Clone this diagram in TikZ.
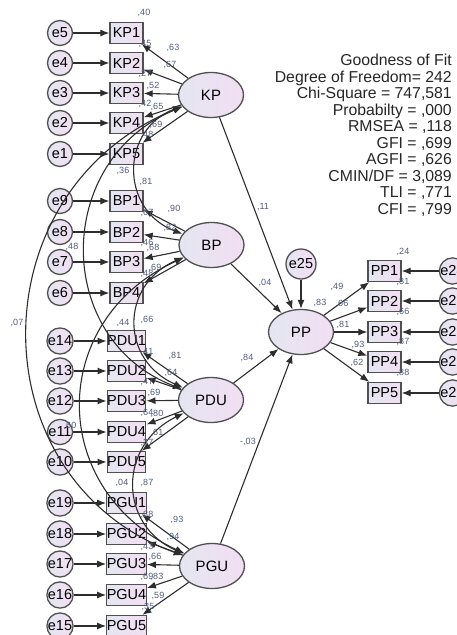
\documentclass[tikz,border=0pt]{standalone}
\usepackage{fontspec}
\setmainfont{Liberation Sans}
\usetikzlibrary{shapes.geometric,arrows.meta}
\definecolor{linha}{RGB}{45,45,45}
\definecolor{borda}{RGB}{80,80,80}
\definecolor{lilasA}{RGB}{228,230,242}
\definecolor{lilasB}{RGB}{242,222,242}
\definecolor{numcor}{RGB}{80,92,125}
\begin{document}
\begin{tikzpicture}[
    x=1pt, y=-1pt,
    obs/.style={shape=rectangle, draw=borda, line width=1.3pt, left color=lilasA, right color=lilasB,
        minimum width=33pt, minimum height=21pt, inner sep=0pt, font=\fontsize{14.5}{14.5}\selectfont},
    erro/.style={shape=circle, draw=borda, line width=1.3pt, left color=lilasA, right color=lilasB,
        minimum size=25pt, inner sep=0pt, font=\fontsize{14.5}{14.5}\selectfont},
    lat/.style={shape=ellipse, draw=borda, line width=1.3pt, left color=lilasA, right color=lilasB,
        minimum width=65pt, minimum height=45pt, inner sep=0pt, font=\fontsize{15}{15}\selectfont},
    seta/.style={draw=linha, line width=1.1pt, -{Latex[length=9pt,width=7pt]}},
    cov/.style={draw=linha, line width=1.1pt, {Latex[length=9pt,width=7pt]}-{Latex[length=9pt,width=7pt]}},
    num/.style={font=\fontsize{9}{9}\selectfont, text=numcor, inner sep=0pt},
    ajuste/.style={align=right, anchor=north east, inner sep=0pt, text=black!85, font=\fontsize{15.8}{16.5}\selectfont},
]
\useasboundingbox (0,0) rectangle (456,635);

% variaveis latentes
\node[lat] (kp) at (211,95) {KP};
\node[lat] (bp) at (211.5,245) {BP};
\node[lat] (pdu) at (211,400) {PDU};
\node[lat] (pgu) at (212,566) {PGU};
\node[lat] (pp) at (301,332) {PP};
\node[erro, minimum size=30pt] (e25) at (301,264) {e25};

% KP
\node[obs] (kp1) at (126.5,33) {KP1};
\node[obs] (kp2) at (126.5,63) {KP2};
\node[obs] (kp3) at (126.5,93) {KP3};
\node[obs] (kp4) at (126.5,123) {KP4};
\node[obs] (kp5) at (126.5,154) {KP5};
\node[erro] (e5) at (60,33) {e5};
\node[erro] (e4) at (60,63) {e4};
\node[erro] (e3) at (60,93) {e3};
\node[erro] (e2) at (60,123) {e2};
\node[erro] (e1) at (60,154) {e1};

% BP
\node[obs] (bp1) at (126.5,201) {BP1};
\node[obs] (bp2) at (126.5,232) {BP2};
\node[obs] (bp3) at (126.5,262) {BP3};
\node[obs] (bp4) at (126.5,293) {BP4};
\node[erro] (e9) at (60,201) {e9};
\node[erro] (e8) at (60,232) {e8};
\node[erro] (e7) at (60,262) {e7};
\node[erro] (e6) at (60,293) {e6};

% PDU
\node[obs] (pdu1) at (126.5,341) {PDU1};
\node[obs] (pdu2) at (126.5,371) {PDU2};
\node[obs] (pdu3) at (126.5,401) {PDU3};
\node[obs] (pdu4) at (126.5,432) {PDU4};
\node[obs] (pdu5) at (126.5,462) {PDU5};
\node[erro] (e14) at (60,341) {e14};
\node[erro] (e13) at (60,371) {e13};
\node[erro] (e12) at (60,401) {e12};
\node[erro] (e11) at (60,432) {e11};
\node[erro] (e10) at (60,462) {e10};

% PGU
\node[obs] (pgu1) at (126.5,503) {PGU1};
\node[obs] (pgu2) at (126.5,534) {PGU2};
\node[obs] (pgu3) at (126.5,564) {PGU3};
\node[obs] (pgu4) at (126.5,595) {PGU4};
\node[obs] (pgu5) at (126.5,626) {PGU5};
\node[erro] (e19) at (60,503) {e19};
\node[erro] (e18) at (60,534) {e18};
\node[erro] (e17) at (60,564) {e17};
\node[erro] (e16) at (60,595) {e16};
\node[erro] (e15) at (60,626) {e15};

% PP
\node[obs] (pp1) at (384.5,271) {PP1};
\node[obs] (pp2) at (384.5,301) {PP2};
\node[obs] (pp3) at (384.5,332) {PP3};
\node[obs] (pp4) at (384.5,362) {PP4};
\node[obs] (pp5) at (384.5,393) {PP5};
\node[erro] (e24) at (452.5,271) {e24};
\node[erro] (e23) at (452.5,301) {e23};
\node[erro] (e22) at (452.5,332) {e22};
\node[erro] (e21) at (452.5,362) {e21};
\node[erro] (e20) at (452.5,393) {e20};

% erros -> indicadores
\draw[seta] (e5) -- (kp1);
\draw[seta] (e4) -- (kp2);
\draw[seta] (e3) -- (kp3);
\draw[seta] (e2) -- (kp4);
\draw[seta] (e1) -- (kp5);
\draw[seta] (e9) -- (bp1);
\draw[seta] (e8) -- (bp2);
\draw[seta] (e7) -- (bp3);
\draw[seta] (e6) -- (bp4);
\draw[seta] (e14) -- (pdu1);
\draw[seta] (e13) -- (pdu2);
\draw[seta] (e12) -- (pdu3);
\draw[seta] (e11) -- (pdu4);
\draw[seta] (e10) -- (pdu5);
\draw[seta] (e19) -- (pgu1);
\draw[seta] (e18) -- (pgu2);
\draw[seta] (e17) -- (pgu3);
\draw[seta] (e16) -- (pgu4);
\draw[seta] (e15) -- (pgu5);
\draw[seta] (e24) -- (pp1);
\draw[seta] (e23) -- (pp2);
\draw[seta] (e22) -- (pp3);
\draw[seta] (e21) -- (pp4);
\draw[seta] (e20) -- (pp5);
\draw[seta] (e25) -- (pp);

% cargas
\draw[seta] (kp) -- (kp1);
\draw[seta] (kp) -- (kp2);
\draw[seta] (kp) -- (kp3);
\draw[seta] (kp) -- (kp4);
\draw[seta] (kp) -- (kp5);
\draw[seta] (bp) -- (bp1);
\draw[seta] (bp) -- (bp2);
\draw[seta] (bp) -- (bp3);
\draw[seta] (bp) -- (bp4);
\draw[seta] (pdu) -- (pdu1);
\draw[seta] (pdu) -- (pdu2);
\draw[seta] (pdu) -- (pdu3);
\draw[seta] (pdu) -- (pdu4);
\draw[seta] (pdu) -- (pdu5);
\draw[seta] (pgu) -- (pgu1);
\draw[seta] (pgu) -- (pgu2);
\draw[seta] (pgu) -- (pgu3);
\draw[seta] (pgu) -- (pgu4);
\draw[seta] (pgu) -- (pgu5);
\draw[seta] (pp) -- (pp1);
\draw[seta] (pp) -- (pp2);
\draw[seta] (pp) -- (pp3);
\draw[seta] (pp) -- (pp4);
\draw[seta] (pp) -- (pp5);

% caminhos estruturais
\draw[seta] (kp) -- (pp);
\draw[seta] (bp) -- (pp);
\draw[seta] (pdu) -- (pp);
\draw[seta] (pgu) -- (pp);

% covariancias
\draw[cov] (kp) .. controls (120,130) and (120,210) .. (bp);
\draw[cov] (bp) .. controls (120,285) and (120,360) .. (pdu);
\draw[cov] (pdu) .. controls (118,445) and (118,525) .. (pgu);
\draw[cov] (kp) .. controls (53,160) and (53,340) .. (pdu);
\draw[cov] (bp) .. controls (47,320) and (47,490) .. (pgu);
\draw[cov] (kp) .. controls (-24,190) and (-24,480) .. (pgu);

% valores
\node[num] (n1) at (144,13) {,40};
\node[num] (n2) at (145,44) {,45};
\node[num] (n3) at (145,74) {,27};
\node[num] (n4) at (145,104) {,42};
\node[num] (n5) at (147,135) {,48};
\node[num] (n6) at (173,48) {,63};
\node[num] (n7) at (170,65) {,67};
\node[num] (n8) at (153,86) {,52};
\node[num] (n9) at (157,107) {,65};
\node[num] (n10) at (156,125) {,69};
\node[num] (n11) at (123,171) {,36};
\node[num] (n12) at (146,182) {,81};
\node[num] (n13) at (147,213) {,67};
\node[num] (n14) at (147,243) {,46};
\node[num] (n15) at (147,274) {,48};
\node[num] (n16) at (174,209) {,90};
\node[num] (n17) at (170,228) {,82};
\node[num] (n18) at (153,248) {,68};
\node[num] (n19) at (155,268) {,69};
\node[num] (n20) at (72,247) {,48};
\node[num] (n21) at (17,323) {,07};
\node[num] (n22) at (123,323) {,44};
\node[num] (n23) at (147,320) {,66};
\node[num] (n24) at (147,352) {,41};
\node[num] (n25) at (147,382) {,47};
\node[num] (n26) at (147,413) {,64};
\node[num] (n27) at (147,443) {,37};
\node[num] (n28) at (175,356) {,81};
\node[num] (n29) at (171,373) {,64};
\node[num] (n30) at (154,393) {,69};
\node[num] (n31) at (157,414) {,80};
\node[num] (n32) at (157,433) {,61};
\node[num] (n33) at (70,426) {,60};
\node[num] (n34) at (122,483) {,04};
\node[num] (n35) at (147,483) {,87};
\node[num] (n36) at (147,515) {,88};
\node[num] (n37) at (147,547) {,43};
\node[num] (n38) at (147,577) {,69};
\node[num] (n39) at (148,607) {,35};
\node[num] (n40) at (177,520) {,93};
\node[num] (n41) at (173,537) {,94};
\node[num] (n42) at (155,557) {,66};
\node[num] (n43) at (157,577) {,83};
\node[num] (n44) at (158,596) {,59};
\node[num] (n45) at (403,252) {,24};
\node[num] (n46) at (403,282) {,81};
\node[num] (n47) at (403,312) {,66};
\node[num] (n48) at (403,342) {,87};
\node[num] (n49) at (403,373) {,88};
\node[num] (n50) at (337,287) {,49};
\node[num] (n51) at (342,304) {,66};
\node[num] (n52) at (343,325) {,81};
\node[num] (n53) at (358,345) {,93};
\node[num] (n54) at (357,363) {,62};
\node[num] (n55) at (320,303) {,83};
\node[num] (n56) at (263,207) {,11};
\node[num] (n57) at (265,283) {,04};
\node[num] (n58) at (247,358) {,84};
\node[num] (n59) at (248,442) {-,03};

% ajuste do modelo
\node[ajuste] (fit) at (452,54) {Goodness of Fit\\Degree of Freedom= 242\\Chi-Square = 747,581\\Probabilty = ,000\\RMSEA = ,118\\GFI = ,699\\AGFI = ,626\\CMIN/DF = 3,089\\TLI = ,771\\CFI = ,799};
\end{tikzpicture}
\end{document}
